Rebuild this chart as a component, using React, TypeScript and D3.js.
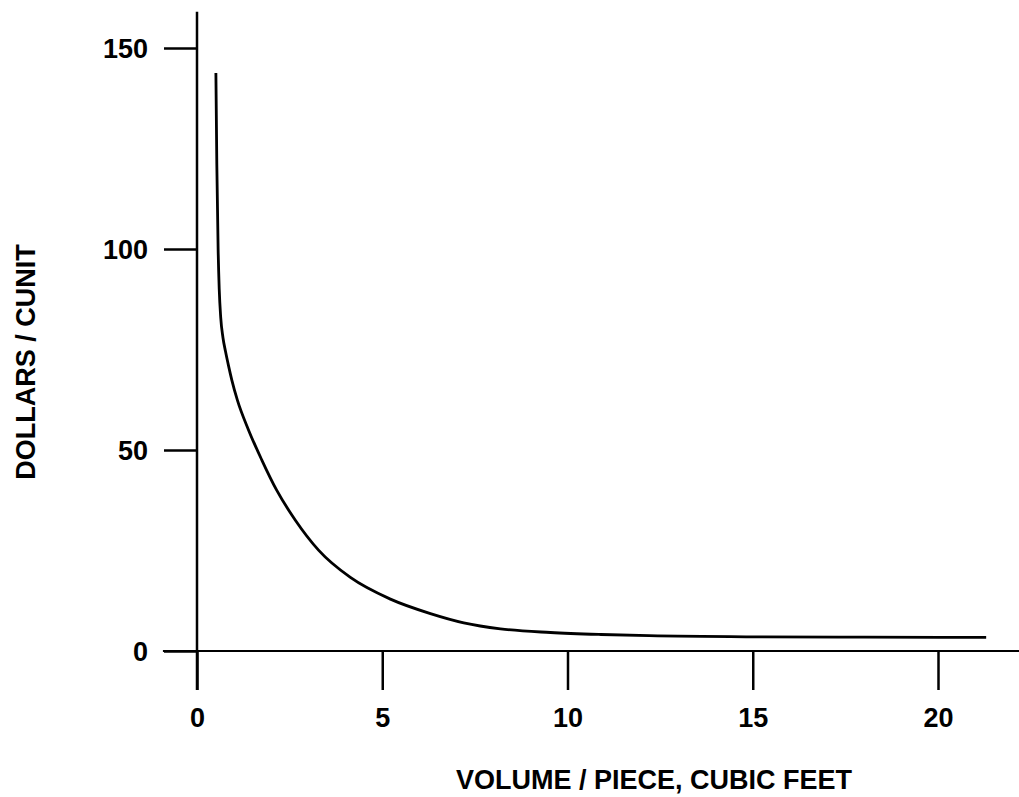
import { useRef, useEffect } from "react";
import * as d3 from "d3";

// curve: volume per piece (cu ft) vs dollars per cunit
const volume = [0.51, 0.535, 0.57, 0.6, 0.64, 0.7, 0.77, 0.85, 0.94, 1.09, 1.39, 1.75, 2.15, 2.65, 3.28, 4.14, 5.22, 6.3, 7.2, 8.19, 9.54, 10.9, 12.2, 15, 18, 21.3];
const dollars = [143.8, 121, 100, 90, 83, 78, 74.5, 71, 67.4, 62.4, 55.0, 47.5, 40.0, 32.6, 25.1, 18.3, 12.9, 9.3, 7.0, 5.5, 4.6, 4.1, 3.8, 3.52, 3.43, 3.4];

const xTicks = [0, 5, 10, 15, 20];
const yTicks = [0, 50, 100, 150];

const FONT = "'Liberation Sans', Arial, Helvetica, sans-serif";

export default function App() {
  const svgRef = useRef<SVGSVGElement>(null);

  useEffect(() => {
    if (!svgRef.current) return;
    const svg = d3.select(svgRef.current);
    svg.selectAll("*").remove();

    const width = 1019;
    const height = 797;

    const x = d3.scaleLinear().domain([0, 20]).range([197, 938]);
    const y = d3.scaleLinear().domain([0, 150]).range([651, 48]);

    svg.attr("width", width).attr("height", height);
    svg.append("rect").attr("width", width).attr("height", height).attr("fill", "#fff");

    // axis lines
    svg.append("line")
      .attr("x1", x(0)).attr("x2", x(0))
      .attr("y1", y(159)).attr("y2", y(0) + 39)
      .attr("stroke", "#000").attr("stroke-width", 2.5);
    svg.append("line")
      .attr("x1", x(-0.92)).attr("x2", width)
      .attr("y1", y(0)).attr("y2", y(0))
      .attr("stroke", "#000").attr("stroke-width", 2);

    // y ticks
    const yAxis = svg.append("g").attr("transform", `translate(${x(0)},0)`)
      .call(d3.axisLeft(y).tickValues(yTicks).tickSize(33).tickPadding(16).tickFormat(d3.format("d")));
    yAxis.select(".domain").remove();
    yAxis.selectAll("line").attr("stroke", "#000").attr("stroke-width", 2.5);
    yAxis.selectAll("text")
      .attr("font-family", FONT).attr("font-weight", "bold").attr("font-size", 27)
      .attr("fill", "#000").attr("dy", "0.35em");

    // x ticks
    const xAxis = svg.append("g").attr("transform", `translate(0,${y(0)})`)
      .call(d3.axisBottom(x).tickValues(xTicks).tickSize(39).tickPadding(18).tickFormat(d3.format("d")));
    xAxis.select(".domain").remove();
    xAxis.selectAll("line").attr("stroke", "#000").attr("stroke-width", 2.5);
    xAxis.selectAll("text")
      .attr("font-family", FONT).attr("font-weight", "bold").attr("font-size", 27)
      .attr("fill", "#000");

    // curve
    const pts = volume.map((v, i) => [v, dollars[i]] as [number, number]);
    const line = d3.line<[number, number]>()
      .x((d) => x(d[0]))
      .y((d) => y(d[1]))
      .curve(d3.curveMonotoneX);
    svg.append("path")
      .attr("d", line(pts) as string)
      .attr("fill", "none")
      .attr("stroke", "#000")
      .attr("stroke-width", 2.8);

    // axis titles
    svg.append("text")
      .attr("x", 654).attr("y", 789)
      .attr("text-anchor", "middle")
      .attr("font-family", FONT).attr("font-weight", "bold").attr("font-size", 27)
      .text("VOLUME / PIECE, CUBIC FEET");

    svg.append("text")
      .attr("transform", "translate(35,362) rotate(-90)")
      .attr("text-anchor", "middle")
      .attr("font-family", FONT).attr("font-weight", "bold").attr("font-size", 27)
      .text("DOLLARS / CUNIT");
  }, []);

  return (
    <svg
      ref={svgRef}
      style={{ position: "absolute", left: 0, top: 0, display: "block" }}
    />
  );
}
